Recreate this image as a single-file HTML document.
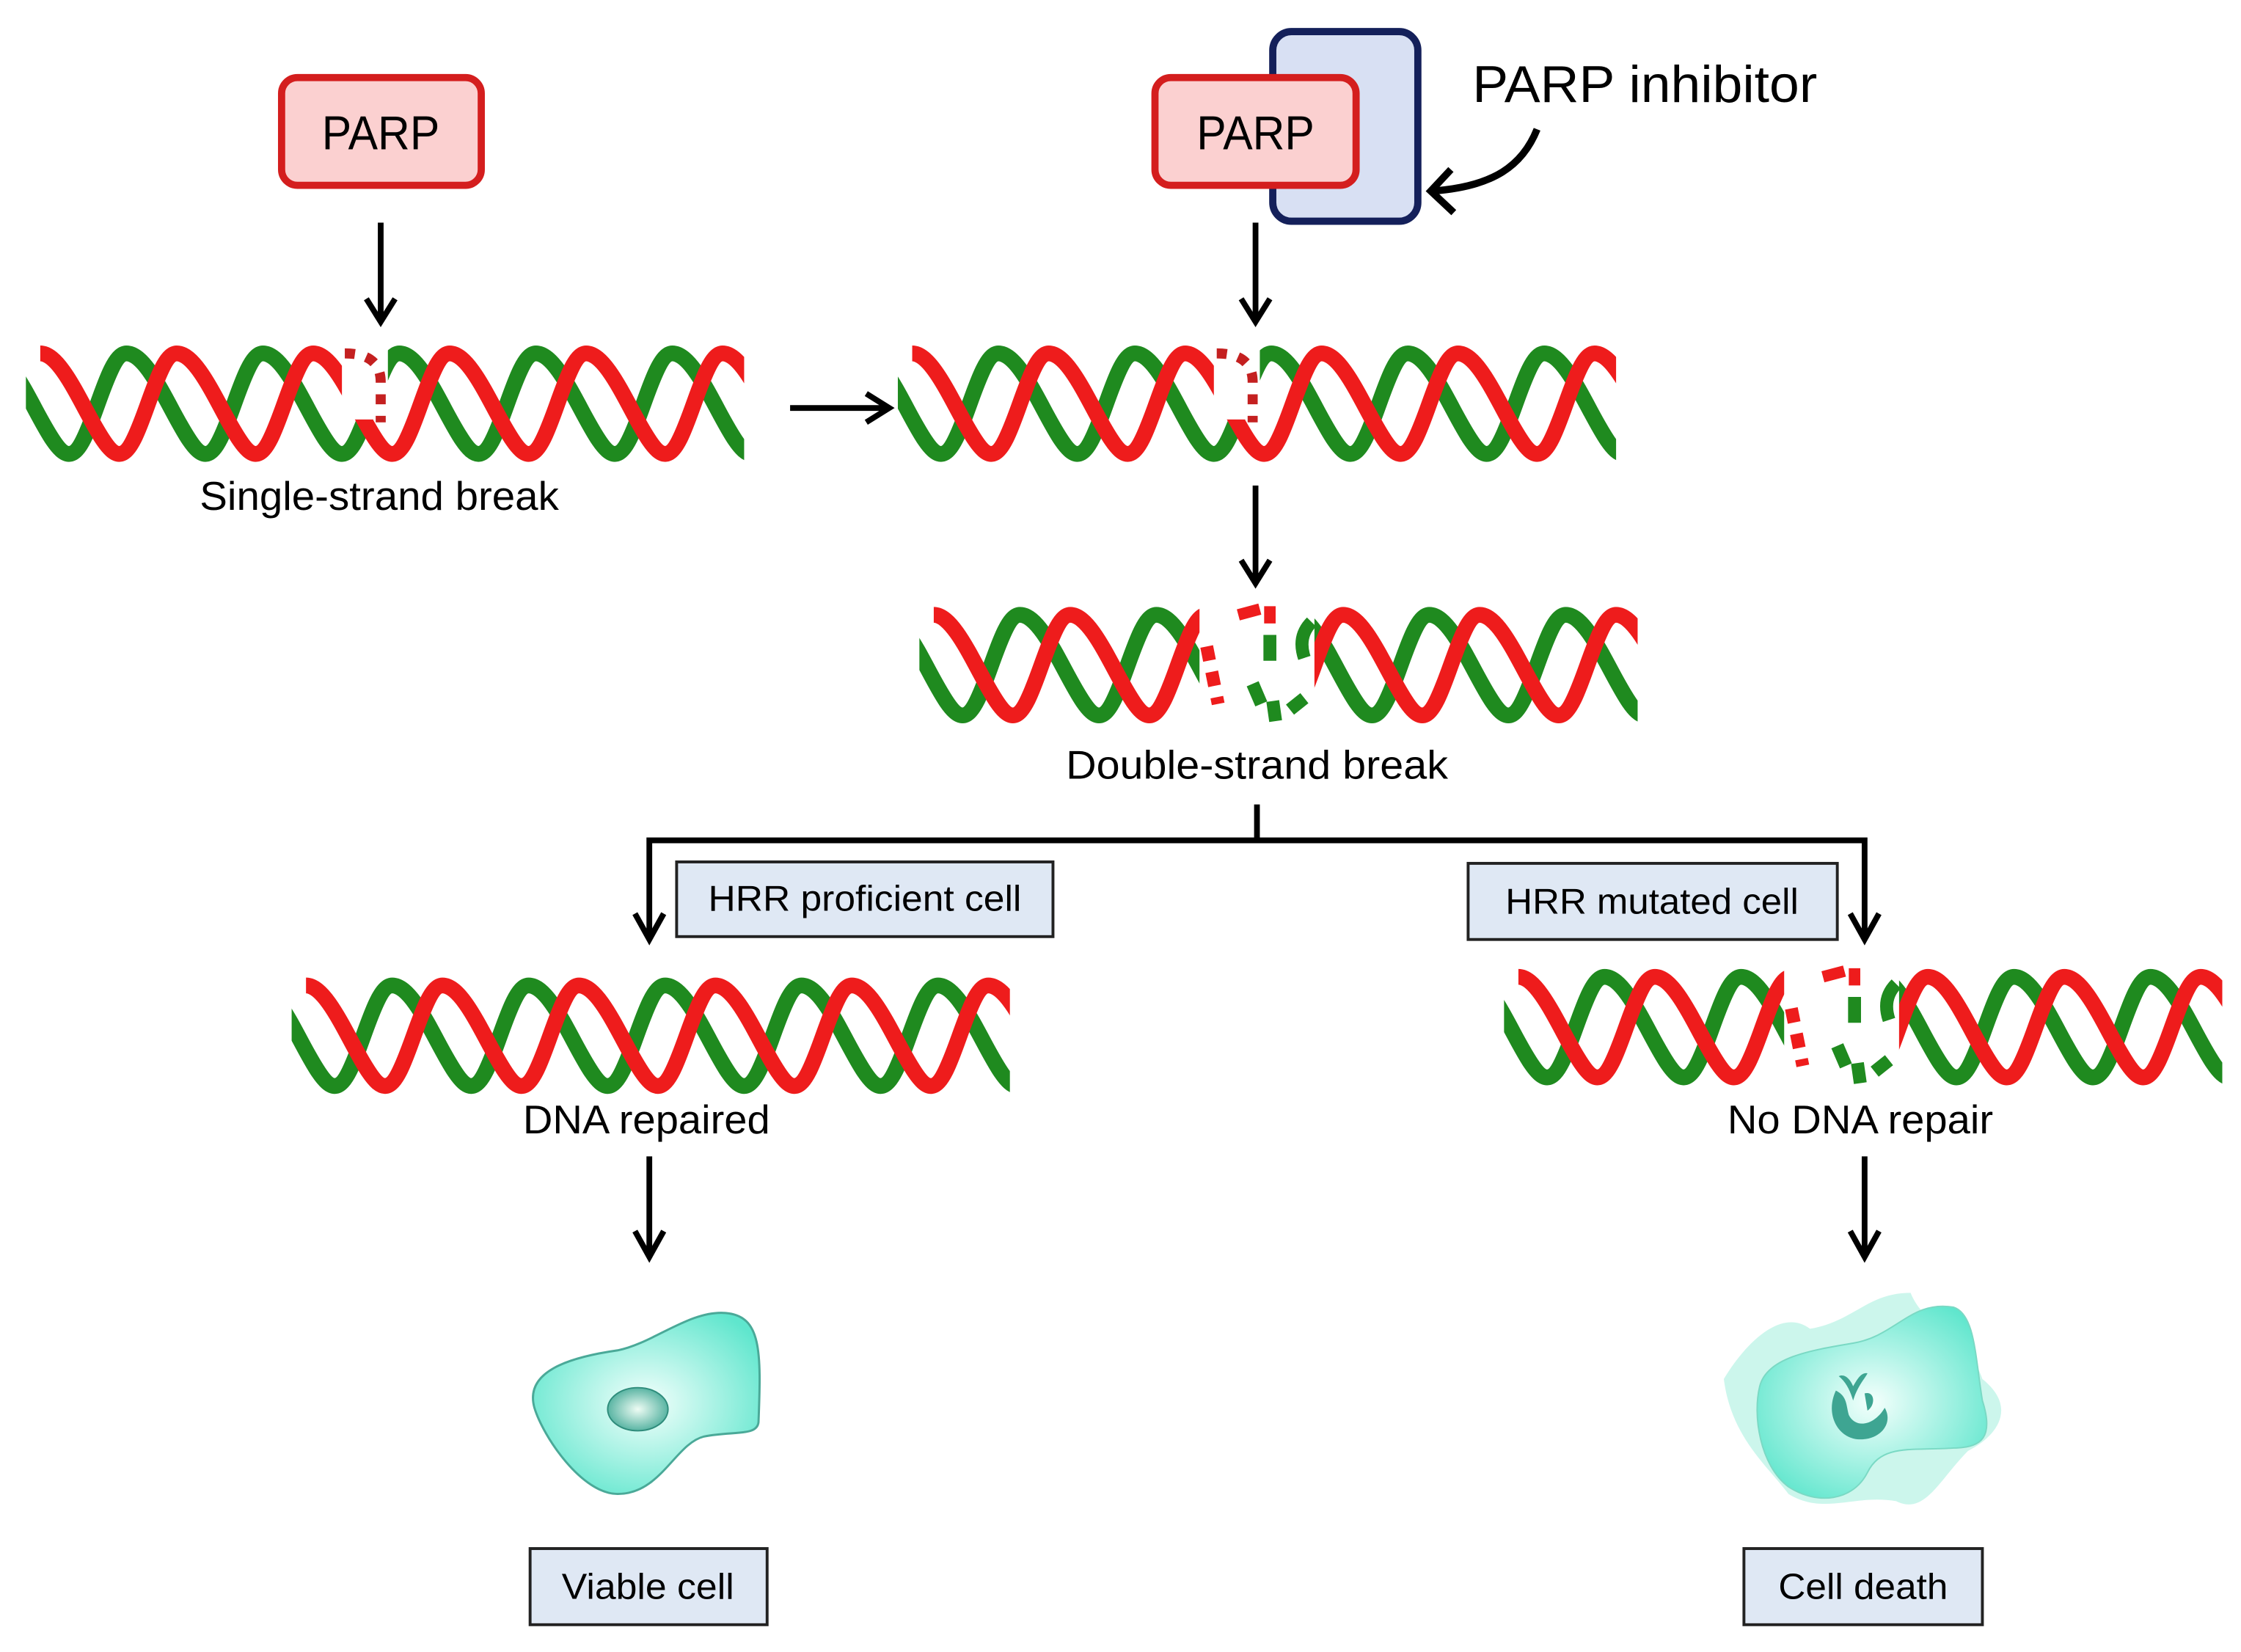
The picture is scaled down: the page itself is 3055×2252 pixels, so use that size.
<!DOCTYPE html>
<html><head><meta charset="utf-8"><style>html,body{margin:0;padding:0;background:#fff}svg{display:block}</style></head>
<body>
<svg width="3055" height="2252" viewBox="0 0 1560 1150" xmlns="http://www.w3.org/2000/svg" font-family="Liberation Sans, sans-serif">
<defs>
<g id="helix">
<path d="M-65,70 c15,0 25,-70 40,-70 c20,0 40,70 55,70 c15,0 25,-70 40,-70 c20,0 40,70 55,70 c15,0 25,-70 40,-70 c20,0 40,70 55,70 c15,0 25,-70 40,-70 c20,0 40,70 55,70 c15,0 25,-70 40,-70 c20,0 40,70 55,70 c15,0 25,-70 40,-70 c20,0 40,70 55,70" fill="none" stroke="#1f8a1f" stroke-width="11"/>
<path d="M10,0 c20,0 40,70 55,70 c15,0 25,-70 40,-70 c20,0 40,70 55,70 c15,0 25,-70 40,-70 c20,0 40,70 55,70 c15,0 25,-70 40,-70 c20,0 40,70 55,70 c15,0 25,-70 40,-70 c20,0 40,70 55,70 c15,0 25,-70 40,-70 c20,0 40,70 55,70" fill="none" stroke="#ee1c1c" stroke-width="11"/>
</g>
<clipPath id="hc"><rect x="0" y="-10" width="500" height="90"/></clipPath>
<radialGradient id="cg" cx="0.5" cy="0.5" r="0.6"><stop offset="0" stop-color="#f4fffc"/><stop offset="1" stop-color="#5fe6cd"/></radialGradient>
<radialGradient id="ng" cx="0.5" cy="0.5" r="0.6"><stop offset="0" stop-color="#eefcf4"/><stop offset="1" stop-color="#3ca693"/></radialGradient>
</defs>

<!-- helices -->
<g transform="translate(18,246)"><g clip-path="url(#hc)"><use href="#helix"/></g>
<rect x="220" y="-6" width="32" height="52" fill="#fff"/>
<path d="M222,0 q25,0 25,20 l0,28" fill="none" stroke="#c42020" stroke-width="7" stroke-dasharray="7,8"/></g>

<g transform="translate(625,246)"><g clip-path="url(#hc)"><use href="#helix"/></g>
<rect x="220" y="-6" width="32" height="52" fill="#fff"/>
<path d="M222,0 q25,0 25,20 l0,28" fill="none" stroke="#c42020" stroke-width="7" stroke-dasharray="7,8"/></g>

<g transform="translate(640,428)"><g clip-path="url(#hc)"><use href="#helix"/></g>
<rect x="195" y="-8" width="80" height="86" fill="#fff"/>
<path d="M200,22 l8,40" stroke="#ee1c1c" stroke-width="9" stroke-dasharray="10,8"/>
<path d="M222,0 l15,-4 M244,-6 l0,12" stroke="#ee1c1c" stroke-width="8"/>
<path d="M244,14 l0,18 M232,48 l6,14 M246,60 l2,14 M258,66 l10,-8 M268,30 q-5,-15 5,-25" stroke="#1f8a1f" stroke-width="9" fill="none"/></g>

<g transform="translate(203,686)"><g clip-path="url(#hc)"><use href="#helix"/></g></g>

<g transform="translate(1047,680)"><g clip-path="url(#hc)"><use href="#helix"/></g>
<rect x="195" y="-8" width="80" height="86" fill="#fff"/>
<path d="M200,22 l8,40" stroke="#ee1c1c" stroke-width="9" stroke-dasharray="10,8"/>
<path d="M222,0 l15,-4 M244,-6 l0,12" stroke="#ee1c1c" stroke-width="8"/>
<path d="M244,14 l0,18 M232,48 l6,14 M246,60 l2,14 M258,66 l10,-8 M268,30 q-5,-15 5,-25" stroke="#1f8a1f" stroke-width="9" fill="none"/></g>

<!-- PARP boxes -->
<rect x="196" y="54" width="139" height="75" rx="11" fill="#fbd0d0" stroke="#d41e1e" stroke-width="5"/>
<text x="265" y="104" font-size="33" text-anchor="middle" textLength="82" lengthAdjust="spacingAndGlyphs">PARP</text>
<rect x="886" y="22" width="101" height="132" rx="13" fill="#d8e0f3" stroke="#14205a" stroke-width="5"/>
<rect x="804" y="54" width="140" height="75" rx="11" fill="#fbd0d0" stroke="#d41e1e" stroke-width="5"/>
<text x="874" y="104" font-size="33" text-anchor="middle" textLength="82" lengthAdjust="spacingAndGlyphs">PARP</text>
<text x="1025" y="71" font-size="36" textLength="240" lengthAdjust="spacingAndGlyphs">PARP inhibitor</text>
<path d="M1070,90 C1060,115 1040,130 997,133" fill="none" stroke="#000" stroke-width="5"/>
<path d="M1010,118 L996,133 L1012,148" fill="none" stroke="#000" stroke-width="5"/>

<!-- arrows -->
<g stroke="#000" stroke-width="4" fill="none">
<path d="M265,155 V222 M255,208 L265,224 L275,208"/>
<path d="M874,155 V222 M864,208 L874,224 L884,208"/>
<path d="M874,338 V404 M864,390 L874,406 L884,390"/>
<path d="M550,284 H617 M603,274 L619,284 L603,294"/>
<path d="M875,560 V585 M452,652 V585 H1298 V652 M442,636 L452,654 L462,636 M1288,636 L1298,654 L1308,636"/>
<path d="M452,805 V873 M442,857 L452,875 L462,857"/>
<path d="M1298,805 V873 M1288,857 L1298,875 L1308,857"/>
</g>

<!-- labels -->
<g font-size="28" text-anchor="middle" lengthAdjust="spacingAndGlyphs">
<text x="264" y="355" textLength="250" lengthAdjust="spacingAndGlyphs">Single-strand break</text>
<text x="875" y="542" textLength="266" lengthAdjust="spacingAndGlyphs">Double-strand break</text>
<text x="450" y="789" textLength="172" lengthAdjust="spacingAndGlyphs">DNA repaired</text>
<text x="1295" y="789" textLength="185" lengthAdjust="spacingAndGlyphs">No DNA repair</text>
</g>

<!-- label boxes -->
<g fill="#dfe8f4" stroke="#222" stroke-width="2">
<rect x="471" y="600" width="262" height="52"/>
<rect x="1022" y="601" width="257" height="53"/>
<rect x="369" y="1078" width="165" height="53"/>
<rect x="1214" y="1078" width="166" height="53"/>
</g>
<g font-size="25" text-anchor="middle">
<text x="602" y="634" textLength="218" lengthAdjust="spacingAndGlyphs">HRR proficient  cell</text>
<text x="1150" y="636" textLength="204" lengthAdjust="spacingAndGlyphs">HRR mutated cell</text>
<text x="451" y="1113" textLength="120" lengthAdjust="spacingAndGlyphs">Viable cell</text>
<text x="1297" y="1113" textLength="118" lengthAdjust="spacingAndGlyphs">Cell death</text>
</g>

<!-- viable cell -->
<path d="M372,980 C365,955 395,945 430,940 C455,935 480,912 505,914 C530,916 530,940 528,990 C527,1000 510,996 490,1000 C470,1005 460,1040 430,1040 C405,1040 378,1000 372,980 Z" fill="url(#cg)" stroke="#4aa998" stroke-width="1.5"/>
<ellipse cx="444" cy="981" rx="21" ry="15" fill="url(#ng)" stroke="#2e8c7b" stroke-width="1"/>

<!-- dead cell -->
<path d="M1200,960 C1215,935 1240,910 1260,925 C1290,920 1300,900 1330,900 C1340,925 1370,930 1380,960 C1405,980 1390,1000 1370,1010 C1350,1030 1340,1055 1320,1045 C1290,1040 1270,1055 1245,1040 C1230,1020 1205,1000 1200,960 Z" fill="#c7f5ea" opacity="0.9"/>
<path d="M1225,965 C1230,945 1260,940 1290,935 C1320,930 1330,905 1360,910 C1375,915 1375,945 1380,975 C1388,1000 1380,1008 1360,1008 C1330,1010 1310,1005 1300,1025 C1290,1045 1265,1048 1245,1035 C1225,1020 1220,985 1225,965 Z" fill="url(#cg)" stroke="#7ad9c4" stroke-width="1"/>
<path d="M1278,968 C1270,985 1280,1002 1295,1002 C1310,1002 1318,990 1312,980 C1305,992 1292,995 1287,985 C1285,978 1286,972 1278,968 Z M1280,958 C1285,962 1288,968 1290,975 C1293,965 1298,960 1300,956 C1295,955 1292,962 1290,965 C1288,960 1284,956 1280,958 Z M1298,970 C1305,968 1306,978 1300,982 Z" fill="#3ea592"/>
</svg>
</body></html>
